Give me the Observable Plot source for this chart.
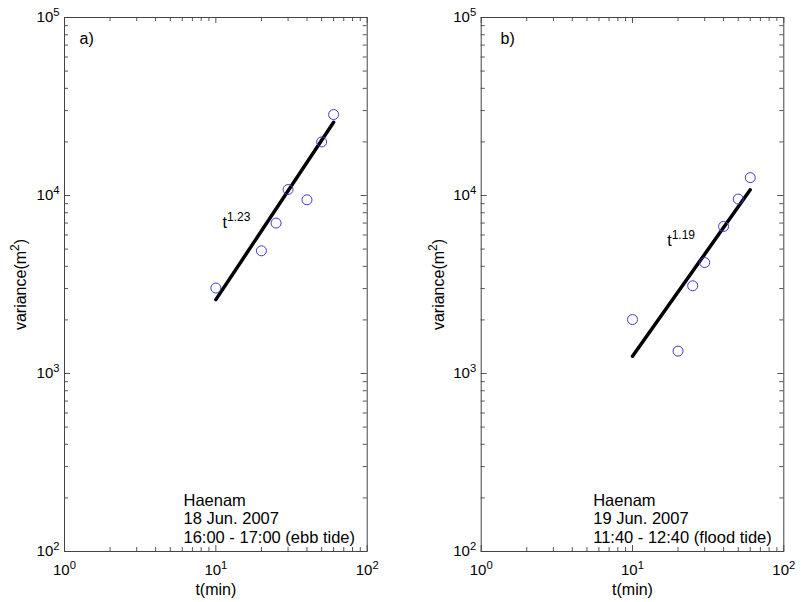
<!DOCTYPE html>
<html><head><meta charset="utf-8">
<script src="https://cdn.jsdelivr.net/npm/d3@7"></script>
<script src="https://cdn.jsdelivr.net/npm/@observablehq/plot@0.6"></script>
<style>
body{margin:0;background:#fff}
#wrap{display:flex;width:801px;height:602px;overflow:hidden}
svg text{font-family:"Liberation Sans",Arial,sans-serif}
</style>
</head><body><div id="wrap"></div>
<script>
// Panel a) — 18 Jun. 2007, ebb tide
const timesA = [10, 20, 25, 30, 40, 50, 60];
const varianceA = [3020, 4890, 7000, 10800, 9460, 20000, 28500];
const fitTimesA = [10, 60];
const fitVarianceA = [2600, 25800];
// Panel b) — 19 Jun. 2007, flood tide
const timesB = [10, 20, 25, 30, 40, 50, 60];
const varianceB = [2010, 1336, 3110, 4200, 6700, 9550, 12600];
const fitTimesB = [10, 60];
const fitVarianceB = [1250, 10760];

// Axis ticks
const majorX = [1, 10, 100];
const minorX = [2,3,4,5,6,7,8,9,20,30,40,50,60,70,80,90];
const majorY = [100, 1000, 10000, 100000];
const minorY = [200,300,400,500,600,700,800,900,2000,3000,4000,5000,6000,7000,8000,9000,20000,30000,40000,50000,60000,70000,80000,90000];

const notesA = ["Haenam", "18 Jun. 2007", "16:00 - 17:00 (ebb tide)"];
const notesB = ["Haenam", "19 Jun. 2007", "11:40 - 12:40 (flood tide)"];

const H = 602, MT = 17, MB = 51;
const powFmt = d => "10^{" + Math.round(Math.log10(d)) + "}";

function panel(o) {
  const innerW = o.w - o.ml - o.mr, innerH = H - MT - MB;
  const pts = o.times.map((t, i) => ({t, v: o.vars[i]}));
  const fit = o.fitT.map((t, i) => ({t, v: o.fitV[i]}));
  const tickC = "#555", majL = 6, minL = 4;
  return Plot.plot({
    width: o.w, height: H,
    marginLeft: o.ml, marginRight: o.mr, marginTop: MT, marginBottom: MB,
    style: {fontFamily: "Liberation Sans, Arial, sans-serif", background: "#fff", color: "#000"},
    x: {type: "log", domain: [1, 100]},
    y: {type: "log", domain: [100, 100000]},
    marks: [
      // inward ticks, all four sides
      Plot.ruleX(minorX, {insetTop: innerH - minL, stroke: tickC}),
      Plot.ruleX(minorX, {insetBottom: innerH - minL, stroke: tickC}),
      Plot.ruleX(majorX, {insetTop: innerH - majL, stroke: tickC}),
      Plot.ruleX(majorX, {insetBottom: innerH - majL, stroke: tickC}),
      Plot.ruleY(minorY, {insetRight: innerW - minL, stroke: tickC}),
      Plot.ruleY(minorY, {insetLeft: innerW - minL, stroke: tickC}),
      Plot.ruleY(majorY, {insetRight: innerW - majL, stroke: tickC}),
      Plot.ruleY(majorY, {insetLeft: innerW - majL, stroke: tickC}),
      Plot.frame({stroke: "#444"}),
      Plot.axisX(majorX, {tickSize: 0, tickPadding: 13, tickFormat: powFmt, label: null, fontSize: 15}),
      Plot.axisY(majorY, {tickSize: 0, tickPadding: 5, tickFormat: powFmt, label: null, fontSize: 15}),
      Plot.text(["t(min)"], {text: d => d, frameAnchor: "bottom", dy: 43, lineAnchor: "bottom", fontSize: 16}),
      Plot.text(["variance(m^{2})"], {text: d => d, frameAnchor: "left", rotate: -90, dx: o.ylabDx, textAnchor: "middle", lineAnchor: "middle", fontSize: 16}),
      Plot.line(fit, {x: "t", y: "v", stroke: "#000", strokeWidth: 3.5}),
      Plot.dot(pts, {x: "t", y: "v", r: 5, stroke: "#3b3bd0", fill: "none", strokeWidth: 1}),
      Plot.text([o.tag], {text: d => d, frameAnchor: "top-left", dx: o.tagDx, dy: 21, textAnchor: "start", lineAnchor: "middle", fontSize: 16}),
      Plot.text([o.exp], {text: d => d, frameAnchor: "top-left", dx: o.expDx, dy: o.expDy, textAnchor: "start", lineAnchor: "bottom", fontSize: 16}),
      Plot.text([o.notes.join("\n")], {text: d => d, frameAnchor: "bottom-left", dx: o.noteDx, dy: -9, textAnchor: "start", lineAnchor: "bottom", lineHeight: 1.12, fontSize: 16.5})
    ]
  });
}

function superscripts(svg) {
  d3.select(svg).selectAll("text").each(function() {
    if (this.children.length) return;
    const s = this.textContent;
    if (!s.includes("^{")) return;
    const fs = parseFloat(getComputedStyle(this).fontSize) || 15;
    const shift = fs * 0.42;
    const parts = s.split(/\^\{([^}]*)\}/);
    this.textContent = "";
    let raised = false;
    parts.forEach((p, i) => {
      if (!p) return;
      const sup = i % 2 === 1;
      const ts = document.createElementNS("http://www.w3.org/2000/svg", "tspan");
      if (sup) { ts.setAttribute("dy", -shift); ts.setAttribute("font-size", fs * 0.75); raised = true; }
      else if (raised) { ts.setAttribute("dy", shift); raised = false; }
      ts.textContent = p;
      this.appendChild(ts);
    });
  });
  return svg;
}

const wrap = document.getElementById("wrap");
const svgA = panel({
  w: 400, ml: 64, mr: 33.3, times: timesA, vars: varianceA, fitT: fitTimesA, fitV: fitVarianceA,
  tag: "a)", tagDx: 15, exp: "t^{1.23}", expDx: 158, expDy: 210, notes: notesA, noteDx: 119, ylabDx: -43.5
});
const svgB = panel({
  w: 401, ml: 80.7, mr: 17.7, times: timesB, vars: varianceB, fitT: fitTimesB, fitV: fitVarianceB,
  tag: "b)", tagDx: 19.3, exp: "t^{1.19}", expDx: 186, expDy: 228, notes: notesB, noteDx: 112, ylabDx: -42.2
});
wrap.appendChild(svgA);
wrap.appendChild(svgB);
superscripts(svgA);
superscripts(svgB);
</script>
</body></html>
